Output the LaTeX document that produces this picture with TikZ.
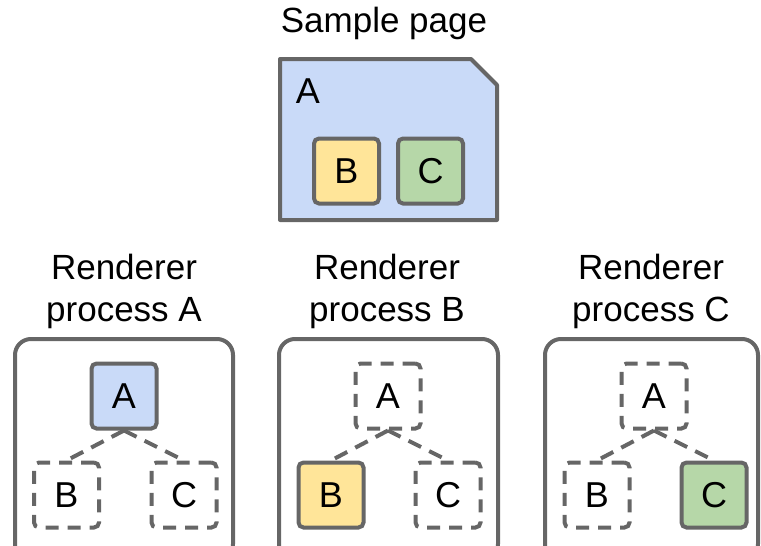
\documentclass[tikz,border=0pt]{standalone}
\usepackage{fontspec}
\setmainfont{Liberation Sans}
\usetikzlibrary{positioning}

\definecolor{linegray}{HTML}{666666}
\definecolor{pageblue}{HTML}{C9DAF8}
\definecolor{boxyellow}{HTML}{FFE599}
\definecolor{boxgreen}{HTML}{B6D7A8}

\tikzset{
    frame/.style={draw=linegray, line width=4pt, rounded corners=16pt},
    frame box/.style={draw=linegray, line width=4pt, rounded corners=5pt,
        minimum size=65pt, inner sep=0pt, font=\fontsize{36}{36}\selectfont},
    ghost/.style={frame box, dash pattern=on 13pt off 9pt},
    link/.style={draw=linegray, line width=4pt, dash pattern=on 14pt off 9pt},
    caption/.style={align=center, inner sep=0pt, font=\fontsize{35}{42}\selectfont}
}

\begin{document}
\begin{tikzpicture}[x=1pt, y=-1pt]
    \useasboundingbox (0,0) rectangle (761,546);
    \clip (0,0) rectangle (761,546);

    % Sample page
    \node [caption, anchor=base]            (title)  at (384,32)   {Sample page};
    \draw [draw=linegray, fill=pageblue, line width=4pt, line join=round]
        (280,59) -- (471,59) -- (497,85) -- (497,220) -- (280,220) -- cycle;
    \node [font=\fontsize{36}{36}\selectfont] (pA)   at (308,91)   {A};
    \node [frame box, fill=boxyellow]       (pB)     at (346.5,171) {B};
    \node [frame box, fill=boxgreen]        (pC)     at (430.5,171) {C};

    % Captions
    \node [caption]                         (capA)   at (124,291)  {Renderer\\process A};
    \node [caption]                         (capB)   at (387,291)  {Renderer\\process B};
    \node [caption]                         (capC)   at (651,291)  {Renderer\\process C};

    % Frames
    \draw [frame] (15,560) rectangle (233,339);
    \draw [frame] (279,560) rectangle (498,339);
    \draw [frame] (545,560) rectangle (758,339);

    % Renderer process A
    \node [frame box, fill=pageblue]        (a1)     at (124,396)  {A};
    \node [ghost]                           (b1)     at (66.5,495) {B};
    \node [ghost]                           (c1)     at (184,495)  {C};

    % Renderer process B
    \node [ghost]                           (a2)     at (388,396)  {A};
    \node [frame box, fill=boxyellow]       (b2)     at (331,495)  {B};
    \node [ghost]                           (c2)     at (448,495)  {C};

    % Renderer process C
    \node [ghost]                           (a3)     at (654,396)  {A};
    \node [ghost]                           (b3)     at (597,495)  {B};
    \node [frame box, fill=boxgreen]        (c3)     at (714,495)  {C};

    % Paths
    \path [link] (a1.south) -- (b1.north);
    \path [link] (a1.south) -- (c1.north);
    \path [link] (a2.south) -- (b2.north);
    \path [link] (a2.south) -- (c2.north);
    \path [link] (a3.south) -- (b3.north);
    \path [link] (a3.south) -- (c3.north);

\end{tikzpicture}
\end{document}
